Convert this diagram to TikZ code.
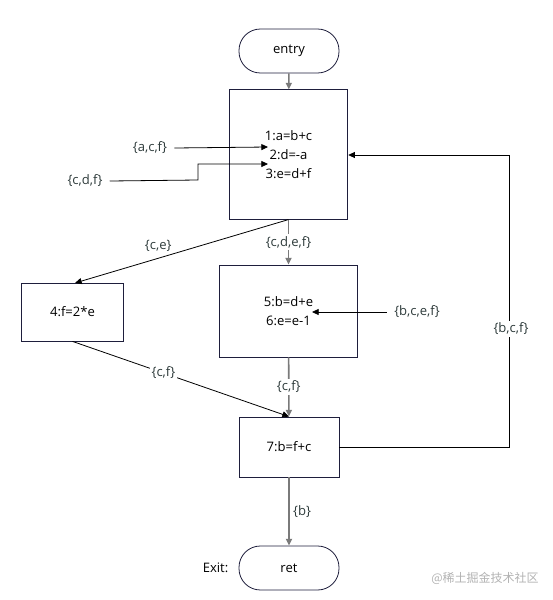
\documentclass[tikz,border=0pt]{standalone}
\usepackage{fontspec}
\setmainfont{Open Sans}
\newfontfamily\cjkfont{Noto Sans CJK SC}
\usetikzlibrary{arrows.meta, positioning, calc}
\definecolor{edgeNavy}{HTML}{1E1E3C}
\definecolor{flowGray}{HTML}{7A7A7A}
\definecolor{setInk}{HTML}{2E3B3B}
\tikzset{
  block/.style={draw=edgeNavy, line width=0.6pt, fill=white, align=center,
                font=\fontsize{9.8}{14.5}\selectfont},
  term/.style={draw=edgeNavy, line width=0.6pt, fill=white, rounded corners=16pt,
               minimum width=75pt, minimum height=33pt, font=\fontsize{9.8}{11}\selectfont},
  arrow/.style={-{Triangle[length=5pt,width=4.5pt]}, line width=0.6pt, black},
  vflow/.style={-{Triangle[length=5pt,width=4.5pt]}, line width=1.2pt, flowGray},
  liveset/.style={font=\fontsize{9.8}{11}\selectfont, text=setInk, inner sep=1.5pt},
}

\begin{document}
\begin{tikzpicture}[x=0.75pt, y=-0.75pt]
\useasboundingbox (0,0) rectangle (553,600);
% blocks
\node[term] (entry) at (289,51) {entry};
\node[block, minimum width=89pt, minimum height=97pt] (stmts) at (288.5,154.5)
  {1:a=b+c\\2:d=-a\\3:e=d+f};
\node[block, minimum width=76pt, minimum height=43.5pt] (fdef) at (72.5,312) {4:f=2*e};
\node[block, minimum width=103pt, minimum height=69pt] (loop) at (288.5,311)
  {5:b=d+e\\6:e=e-1};
\node[block, minimum width=75pt, minimum height=45pt] (bdef) at (289,447) {7:b=f+c};
\node[term] (ret) at (289,568) {ret};
\node[liveset, text=black, left=6pt of ret] (exitlbl) {Exit:};

% live sets coming in from outside
\node[liveset] (inAcf) at (150,148) {\{a,c,f\}};
\node[liveset] (inCdf) at (85,181) {\{c,d,f\}};
\node[liveset] (inBcef) at (417,312) {\{b,c,e,f\}};
\coordinate (hitA) at (268,147);
\coordinate (hitD) at (268,164);
\coordinate (hitB) at (312,312);
\coordinate (stepX) at (198,180);
\coordinate (loopR) at (509,447);
\coordinate (loopT) at (509,155);

\draw[arrow] (inAcf.east) ++(5,0) -- (hitA);
\draw[arrow] (inCdf.east) ++(5,0) -- (stepX) |- (hitD);
\draw[arrow] (inBcef.west) ++(-5,0) -- (hitB);

% flow edges
\draw[vflow] (entry) -- (stmts);
\draw[arrow] (stmts.south) -- (75,283) node[liveset, pos=0.61, above=3pt] {\{c,e\}};
\draw[vflow] (stmts) -- (loop) node[liveset, fill=white, midway] {\{c,d,e,f\}};
\draw[arrow] (fdef.south) -- (bdef.north) node[liveset, fill=white, pos=0.42] {\{c,f\}};
\draw[vflow] (loop) -- (bdef) node[liveset, fill=white, midway] {\{c,f\}};
\draw[vflow] (bdef) -- (ret) node[liveset, midway, right=1pt] {\{b\}};
\draw[arrow] (bdef.east) -- (loopR) -- (loopT) -- (stmts.east|-loopT);
\node[liveset, fill=white] (backset) at (511,329) {\{b,c,f\}};

% watermark
\node[font=\cjkfont\fontsize{9}{11}\selectfont, text=black!30] (mark) at (485,578) {@稀土掘金技术社区};
\end{tikzpicture}
\end{document}
